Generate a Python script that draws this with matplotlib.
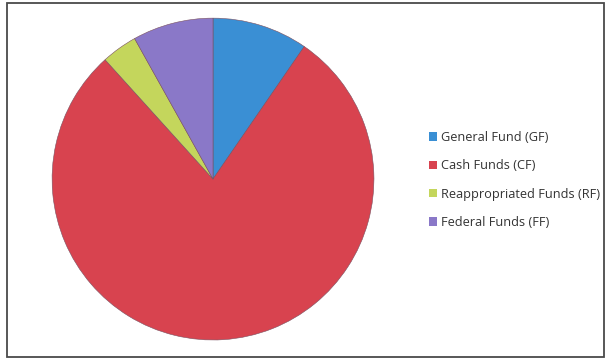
import matplotlib
matplotlib.use("Agg")
import matplotlib.pyplot as plt
from matplotlib.patches import Rectangle

labels = ["General Fund (GF)", "Cash Funds (CF)", "Reappropriated Funds (RF)", "Federal Funds (FF)"]
shares = [9.6, 78.7, 3.6, 8.1]
colors = ["#3a8fd4", "#d8434f", "#c4d65c", "#8a78c8"]

plt.rcParams['font.family'] = ['Open Sans', 'DejaVu Sans']

fig = plt.figure(figsize=(6.1, 3.6), dpi=100)
fig.patch.set_facecolor("white")
ax = fig.add_axes([0.0852, 0.0556, 0.528, 0.894])
wedges, _ = ax.pie(shares, colors=colors, startangle=90, counterclock=False,
                   wedgeprops=dict(linewidth=0.4, edgecolor="#7a5060"))
ax.set_xlim(-1, 1)
ax.set_ylim(-1, 1)
ax.set_aspect("equal")

leg = fig.legend(wedges, labels, loc="center left", bbox_to_anchor=(0.685, 0.5),
                 frameon=False, fontsize=9.2, handlelength=0.6, handleheight=0.6,
                 handletextpad=0.35, labelspacing=1.2, labelcolor="#333333")
for h in leg.legend_handles:
    h.set_linewidth(0)

# chart frame
fig.patches.append(Rectangle((0.012, 0.008), 0.978, 0.984, transform=fig.transFigure,
                             fill=False, edgecolor="#4a4a4a", linewidth=1.3))

fig.savefig("out.png", dpi=100)
